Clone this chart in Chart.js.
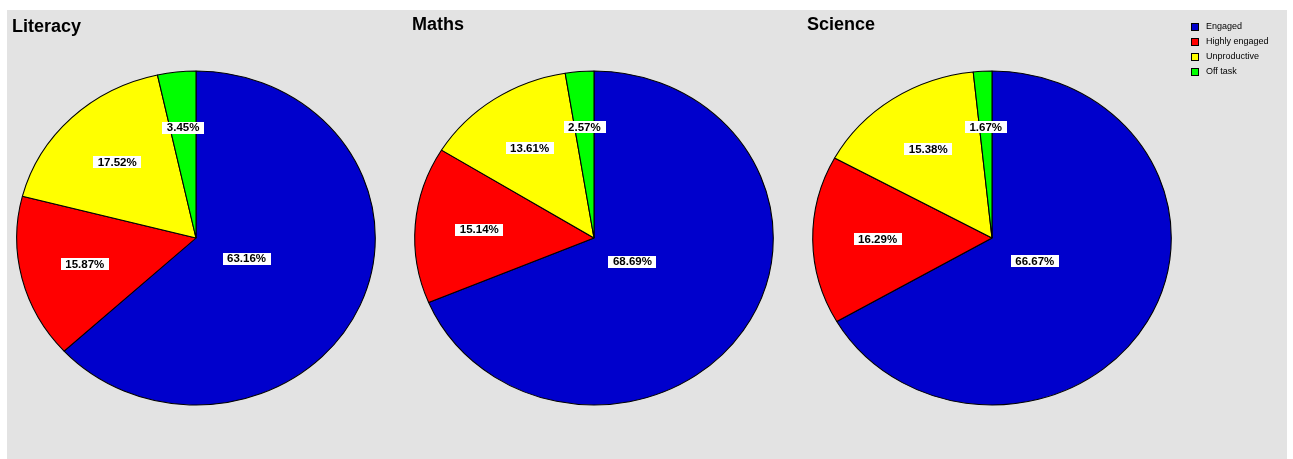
<!DOCTYPE html>
<html>
<head>
<meta charset="utf-8">
<title>Engagement by subject</title>
<script src="https://cdn.jsdelivr.net/npm/chart.js@4"></script>
<style>
    body { margin: 0; background: #fff; font-family: "Liberation Sans", Arial, sans-serif; }
    #panel { position: absolute; left: 7px; top: 10px; width: 1280px; height: 449px; background: #e3e3e3; }
    canvas.pie { position: absolute; top: 10px; }
    #legend { position: absolute; left: 1191px; top: 22px; font-size: 9px; color: #000; }
    #legend div { height: 15px; line-height: 9px; white-space: nowrap; }
    #legend span.box { display: inline-block; width: 6px; height: 6px; border: 1px solid #000; margin-right: 7px; vertical-align: top; margin-top: 1px; }
</style>
</head>
<body>
<div id="panel"></div>
<canvas class="pie" id="pie0" width="400" height="449"></canvas>
<canvas class="pie" id="pie1" width="400" height="449"></canvas>
<canvas class="pie" id="pie2" width="400" height="449"></canvas>
<div id="legend"></div>
<script>
const categories = ['Engaged', 'Highly engaged', 'Unproductive', 'Off task'];
const subjects = ['Literacy', 'Maths', 'Science'];
const literacyValues = [63.16, 15.87, 17.52, 3.45];
const mathsValues = [68.69, 15.14, 13.61, 2.57];
const scienceValues = [66.67, 16.29, 15.38, 1.67];
const sliceColors = ['#0000cc', '#ff0000', '#ffff00', '#00ff00'];

const seriesBySubject = [literacyValues, mathsValues, scienceValues];

// page layout of the three pies
const pieCenterX = [196, 594, 992];
const titleX = [12, 412, 807];
const titleBaseline = [32, 30, 30];
const radiusY = 167;
const stretchX = 179.3 / 167;

// pies in the original are slightly wider than tall, so stretch the arcs
// and put the value labels at each slice's centroid
const ellipsePlugin = {
    id: 'ellipse',
    beforeDatasetsDraw(chart, args, opts) {
        const arc = chart.getDatasetMeta(0).data[0];
        const ctx = chart.ctx;
        ctx.save();
        ctx.translate(arc.x, arc.y);
        ctx.scale(opts.scaleX, 1);
        ctx.translate(-arc.x, -arc.y);
    },
    afterDatasetsDraw(chart, args, opts) {
        const ctx = chart.ctx;
        ctx.restore();

        const values = chart.data.datasets[0].data;
        ctx.save();
        ctx.font = 'bold 11.5px "Liberation Sans", Arial, sans-serif';
        ctx.textAlign = 'center';
        ctx.textBaseline = 'middle';
        chart.getDatasetMeta(0).data.forEach((arc, i) => {
            const p = arc.getProps(['x', 'y', 'startAngle', 'endAngle', 'outerRadius'], true);
            const theta = p.endAngle - p.startAngle;
            const mid = (p.startAngle + p.endAngle) / 2;
            const d = 4 * p.outerRadius * Math.sin(theta / 2) / (3 * theta);
            const lx = p.x + d * Math.cos(mid) * opts.scaleX;
            const ly = p.y + d * Math.sin(mid);
            const text = values[i].toFixed(2) + '%';
            const w = ctx.measureText(text).width + 9;
            ctx.fillStyle = '#fff';
            ctx.fillRect(Math.round(lx - w / 2), Math.round(ly - 6), Math.round(w), 12);
            ctx.fillStyle = '#000';
            ctx.fillText(text, lx, ly + 0.5);
        });
        ctx.restore();

        // panel title
        ctx.save();
        ctx.font = 'bold 18px "Liberation Sans", Arial, sans-serif';
        ctx.fillStyle = '#000';
        ctx.textAlign = 'left';
        ctx.textBaseline = 'alphabetic';
        ctx.fillText(opts.title, opts.titleX, opts.titleY);
        ctx.restore();
    }
};

subjects.forEach((subject, i) => {
    const canvas = document.getElementById('pie' + i);
    const left = pieCenterX[i] - 200;
    canvas.style.left = left + 'px';

    new Chart(canvas, {
        type: 'pie',
        data: {
            labels: categories,
            datasets: [{
                data: seriesBySubject[i],
                backgroundColor: sliceColors,
                borderColor: '#000',
                borderWidth: 1,
                radius: radiusY
            }]
        },
        options: {
            responsive: false,
            animation: false,
            events: [],
            layout: { padding: { top: 7 } },
            plugins: {
                legend: { display: false },
                tooltip: { enabled: false },
                ellipse: {
                    scaleX: stretchX,
                    title: subject,
                    titleX: titleX[i] - left,
                    titleY: titleBaseline[i] - 10
                }
            }
        },
        plugins: [ellipsePlugin]
    });
});

// legend
const legend = document.getElementById('legend');
categories.forEach((name, i) => {
    const row = document.createElement('div');
    const box = document.createElement('span');
    box.className = 'box';
    box.style.background = sliceColors[i];
    row.appendChild(box);
    row.appendChild(document.createTextNode(name));
    legend.appendChild(row);
});
</script>
</body>
</html>
